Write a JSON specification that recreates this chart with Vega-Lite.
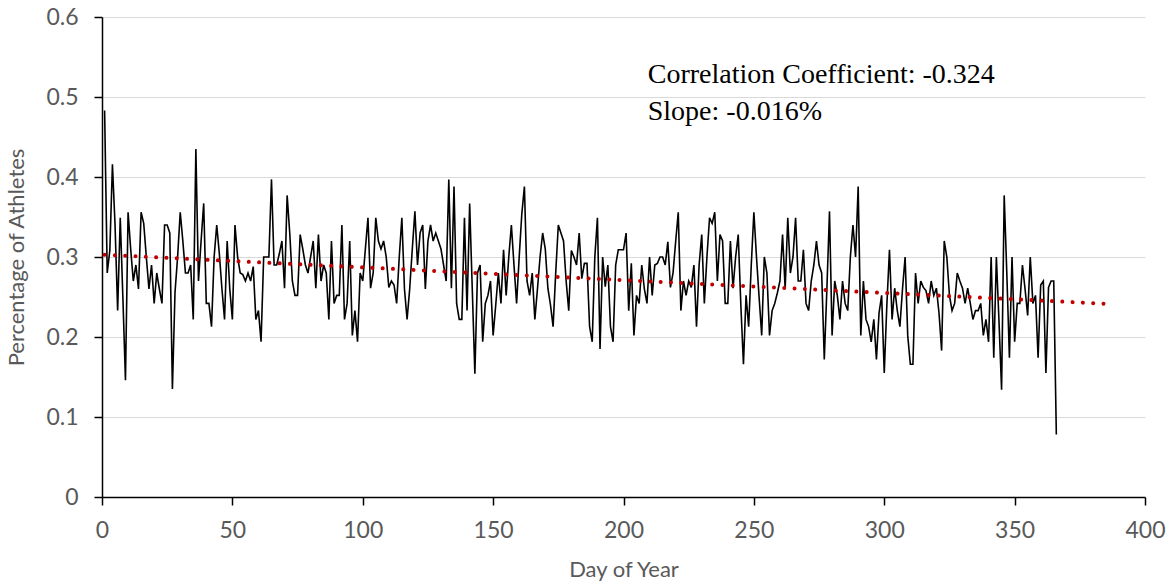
{
  "$schema": "https://vega.github.io/schema/vega-lite/v6.json",
  "width": 1043,
  "height": 480,
  "autosize": {"type": "none"},
  "padding": {"left": 102, "top": 17, "right": 27, "bottom": 89},
  "background": "white",
  "config": {
    "view": {"stroke": null},
    "axis": {
      "labelFont": "Lato",
      "labelFontSize": 23,
      "labelColor": "#595959",
      "labelFlush": false,
      "titleFont": "Lato",
      "titleFontSize": 22,
      "titleFontWeight": "normal",
      "titleColor": "#595959",
      "domainColor": "black",
      "domainWidth": 1.5,
      "tickColor": "black",
      "tickWidth": 1.5,
      "tickSize": 8
    }
  },
  "datasets": {
    "daily": [
      {"day":1,"pct":0.483},{"day":2,"pct":0.280},{"day":3,"pct":0.308},{"day":4,"pct":0.416},{"day":5,"pct":0.340},{"day":6,"pct":0.233},{"day":7,"pct":0.349},{"day":8,"pct":0.250},{"day":9,"pct":0.146},{"day":10,"pct":0.356},
      {"day":11,"pct":0.310},{"day":12,"pct":0.270},{"day":13,"pct":0.290},{"day":14,"pct":0.260},{"day":15,"pct":0.356},{"day":16,"pct":0.342},{"day":17,"pct":0.300},{"day":18,"pct":0.260},{"day":19,"pct":0.290},{"day":20,"pct":0.242},
      {"day":21,"pct":0.280},{"day":22,"pct":0.260},{"day":23,"pct":0.242},{"day":24,"pct":0.340},{"day":25,"pct":0.340},{"day":26,"pct":0.330},{"day":27,"pct":0.135},{"day":28,"pct":0.256},{"day":29,"pct":0.300},{"day":30,"pct":0.356},
      {"day":31,"pct":0.320},{"day":32,"pct":0.280},{"day":33,"pct":0.280},{"day":34,"pct":0.290},{"day":35,"pct":0.222},{"day":36,"pct":0.435},{"day":37,"pct":0.270},{"day":38,"pct":0.320},{"day":39,"pct":0.367},{"day":40,"pct":0.242},
      {"day":41,"pct":0.242},{"day":42,"pct":0.213},{"day":43,"pct":0.300},{"day":44,"pct":0.340},{"day":45,"pct":0.304},{"day":46,"pct":0.260},{"day":47,"pct":0.222},{"day":48,"pct":0.320},{"day":49,"pct":0.260},{"day":50,"pct":0.222},
      {"day":51,"pct":0.340},{"day":52,"pct":0.300},{"day":53,"pct":0.280},{"day":54,"pct":0.278},{"day":55,"pct":0.270},{"day":56,"pct":0.280},{"day":57,"pct":0.270},{"day":58,"pct":0.288},{"day":59,"pct":0.222},{"day":60,"pct":0.233},
      {"day":61,"pct":0.194},{"day":62,"pct":0.300},{"day":63,"pct":0.300},{"day":64,"pct":0.300},{"day":65,"pct":0.397},{"day":66,"pct":0.290},{"day":67,"pct":0.290},{"day":68,"pct":0.304},{"day":69,"pct":0.320},{"day":70,"pct":0.261},
      {"day":71,"pct":0.377},{"day":72,"pct":0.330},{"day":73,"pct":0.270},{"day":74,"pct":0.252},{"day":75,"pct":0.252},{"day":76,"pct":0.328},{"day":77,"pct":0.310},{"day":78,"pct":0.290},{"day":79,"pct":0.280},{"day":80,"pct":0.300},
      {"day":81,"pct":0.320},{"day":82,"pct":0.261},{"day":83,"pct":0.328},{"day":84,"pct":0.270},{"day":85,"pct":0.290},{"day":86,"pct":0.280},{"day":87,"pct":0.222},{"day":88,"pct":0.320},{"day":89,"pct":0.242},{"day":90,"pct":0.252},
      {"day":91,"pct":0.252},{"day":92,"pct":0.340},{"day":93,"pct":0.222},{"day":94,"pct":0.242},{"day":95,"pct":0.320},{"day":96,"pct":0.202},{"day":97,"pct":0.233},{"day":98,"pct":0.194},{"day":99,"pct":0.280},{"day":100,"pct":0.270},
      {"day":101,"pct":0.310},{"day":102,"pct":0.349},{"day":103,"pct":0.261},{"day":104,"pct":0.280},{"day":105,"pct":0.349},{"day":106,"pct":0.320},{"day":107,"pct":0.310},{"day":108,"pct":0.320},{"day":109,"pct":0.300},{"day":110,"pct":0.262},
      {"day":111,"pct":0.270},{"day":112,"pct":0.265},{"day":113,"pct":0.242},{"day":114,"pct":0.300},{"day":115,"pct":0.349},{"day":116,"pct":0.260},{"day":117,"pct":0.222},{"day":118,"pct":0.260},{"day":119,"pct":0.310},{"day":120,"pct":0.357},
      {"day":121,"pct":0.290},{"day":122,"pct":0.330},{"day":123,"pct":0.340},{"day":124,"pct":0.260},{"day":125,"pct":0.320},{"day":126,"pct":0.340},{"day":127,"pct":0.320},{"day":128,"pct":0.330},{"day":129,"pct":0.320},{"day":130,"pct":0.310},
      {"day":131,"pct":0.290},{"day":132,"pct":0.270},{"day":133,"pct":0.397},{"day":134,"pct":0.261},{"day":135,"pct":0.388},{"day":136,"pct":0.242},{"day":137,"pct":0.222},{"day":138,"pct":0.222},{"day":139,"pct":0.349},{"day":140,"pct":0.233},
      {"day":141,"pct":0.367},{"day":142,"pct":0.260},{"day":143,"pct":0.154},{"day":144,"pct":0.280},{"day":145,"pct":0.290},{"day":146,"pct":0.194},{"day":147,"pct":0.242},{"day":148,"pct":0.252},{"day":149,"pct":0.270},{"day":150,"pct":0.202},
      {"day":151,"pct":0.240},{"day":152,"pct":0.280},{"day":153,"pct":0.242},{"day":154,"pct":0.309},{"day":155,"pct":0.252},{"day":156,"pct":0.300},{"day":157,"pct":0.340},{"day":158,"pct":0.290},{"day":159,"pct":0.242},{"day":160,"pct":0.300},
      {"day":161,"pct":0.354},{"day":162,"pct":0.388},{"day":163,"pct":0.270},{"day":164,"pct":0.252},{"day":165,"pct":0.280},{"day":166,"pct":0.222},{"day":167,"pct":0.260},{"day":168,"pct":0.300},{"day":169,"pct":0.330},{"day":170,"pct":0.310},
      {"day":171,"pct":0.261},{"day":172,"pct":0.240},{"day":173,"pct":0.213},{"day":174,"pct":0.280},{"day":175,"pct":0.340},{"day":176,"pct":0.330},{"day":177,"pct":0.320},{"day":178,"pct":0.270},{"day":179,"pct":0.233},{"day":180,"pct":0.308},
      {"day":181,"pct":0.300},{"day":182,"pct":0.290},{"day":183,"pct":0.330},{"day":184,"pct":0.273},{"day":185,"pct":0.292},{"day":186,"pct":0.292},{"day":187,"pct":0.213},{"day":188,"pct":0.194},{"day":189,"pct":0.300},{"day":190,"pct":0.349},
      {"day":191,"pct":0.185},{"day":192,"pct":0.300},{"day":193,"pct":0.263},{"day":194,"pct":0.290},{"day":195,"pct":0.213},{"day":196,"pct":0.194},{"day":197,"pct":0.290},{"day":198,"pct":0.309},{"day":199,"pct":0.309},{"day":200,"pct":0.309},
      {"day":201,"pct":0.330},{"day":202,"pct":0.233},{"day":203,"pct":0.292},{"day":204,"pct":0.202},{"day":205,"pct":0.252},{"day":206,"pct":0.242},{"day":207,"pct":0.290},{"day":208,"pct":0.260},{"day":209,"pct":0.242},{"day":210,"pct":0.300},
      {"day":211,"pct":0.252},{"day":212,"pct":0.290},{"day":213,"pct":0.292},{"day":214,"pct":0.300},{"day":215,"pct":0.300},{"day":216,"pct":0.290},{"day":217,"pct":0.319},{"day":218,"pct":0.262},{"day":219,"pct":0.280},{"day":220,"pct":0.319},
      {"day":221,"pct":0.356},{"day":222,"pct":0.233},{"day":223,"pct":0.270},{"day":224,"pct":0.252},{"day":225,"pct":0.270},{"day":226,"pct":0.262},{"day":227,"pct":0.290},{"day":228,"pct":0.213},{"day":229,"pct":0.290},{"day":230,"pct":0.328},
      {"day":231,"pct":0.242},{"day":232,"pct":0.300},{"day":233,"pct":0.349},{"day":234,"pct":0.342},{"day":235,"pct":0.356},{"day":236,"pct":0.270},{"day":237,"pct":0.328},{"day":238,"pct":0.320},{"day":239,"pct":0.242},{"day":240,"pct":0.242},
      {"day":241,"pct":0.320},{"day":242,"pct":0.261},{"day":243,"pct":0.300},{"day":244,"pct":0.328},{"day":245,"pct":0.240},{"day":246,"pct":0.166},{"day":247,"pct":0.252},{"day":248,"pct":0.213},{"day":249,"pct":0.290},{"day":250,"pct":0.356},
      {"day":251,"pct":0.300},{"day":252,"pct":0.250},{"day":253,"pct":0.202},{"day":254,"pct":0.300},{"day":255,"pct":0.280},{"day":256,"pct":0.202},{"day":257,"pct":0.233},{"day":258,"pct":0.242},{"day":259,"pct":0.255},{"day":260,"pct":0.270},
      {"day":261,"pct":0.328},{"day":262,"pct":0.260},{"day":263,"pct":0.349},{"day":264,"pct":0.280},{"day":265,"pct":0.300},{"day":266,"pct":0.349},{"day":267,"pct":0.270},{"day":268,"pct":0.270},{"day":269,"pct":0.309},{"day":270,"pct":0.242},
      {"day":271,"pct":0.233},{"day":272,"pct":0.270},{"day":273,"pct":0.290},{"day":274,"pct":0.320},{"day":275,"pct":0.290},{"day":276,"pct":0.280},{"day":277,"pct":0.172},{"day":278,"pct":0.260},{"day":279,"pct":0.357},{"day":280,"pct":0.202},
      {"day":281,"pct":0.270},{"day":282,"pct":0.252},{"day":283,"pct":0.222},{"day":284,"pct":0.270},{"day":285,"pct":0.242},{"day":286,"pct":0.233},{"day":287,"pct":0.300},{"day":288,"pct":0.340},{"day":289,"pct":0.300},{"day":290,"pct":0.388},
      {"day":291,"pct":0.202},{"day":292,"pct":0.270},{"day":293,"pct":0.222},{"day":294,"pct":0.213},{"day":295,"pct":0.194},{"day":296,"pct":0.222},{"day":297,"pct":0.172},{"day":298,"pct":0.230},{"day":299,"pct":0.252},{"day":300,"pct":0.155},
      {"day":301,"pct":0.240},{"day":302,"pct":0.309},{"day":303,"pct":0.222},{"day":304,"pct":0.261},{"day":305,"pct":0.233},{"day":306,"pct":0.213},{"day":307,"pct":0.260},{"day":308,"pct":0.300},{"day":309,"pct":0.202},{"day":310,"pct":0.166},
      {"day":311,"pct":0.166},{"day":312,"pct":0.280},{"day":313,"pct":0.242},{"day":314,"pct":0.270},{"day":315,"pct":0.262},{"day":316,"pct":0.258},{"day":317,"pct":0.242},{"day":318,"pct":0.270},{"day":319,"pct":0.252},{"day":320,"pct":0.261},
      {"day":321,"pct":0.230},{"day":322,"pct":0.183},{"day":323,"pct":0.320},{"day":324,"pct":0.300},{"day":325,"pct":0.252},{"day":326,"pct":0.233},{"day":327,"pct":0.242},{"day":328,"pct":0.280},{"day":329,"pct":0.270},{"day":330,"pct":0.261},
      {"day":331,"pct":0.242},{"day":332,"pct":0.261},{"day":333,"pct":0.242},{"day":334,"pct":0.222},{"day":335,"pct":0.233},{"day":336,"pct":0.233},{"day":337,"pct":0.242},{"day":338,"pct":0.202},{"day":339,"pct":0.222},{"day":340,"pct":0.194},
      {"day":341,"pct":0.300},{"day":342,"pct":0.174},{"day":343,"pct":0.300},{"day":344,"pct":0.220},{"day":345,"pct":0.134},{"day":346,"pct":0.377},{"day":347,"pct":0.280},{"day":348,"pct":0.174},{"day":349,"pct":0.300},{"day":350,"pct":0.194},
      {"day":351,"pct":0.242},{"day":352,"pct":0.242},{"day":353,"pct":0.290},{"day":354,"pct":0.260},{"day":355,"pct":0.227},{"day":356,"pct":0.300},{"day":357,"pct":0.242},{"day":358,"pct":0.252},{"day":359,"pct":0.174},{"day":360,"pct":0.265},
      {"day":361,"pct":0.270},{"day":362,"pct":0.155},{"day":363,"pct":0.262},{"day":364,"pct":0.270},{"day":365,"pct":0.270},{"day":366,"pct":0.078}
    ],
    "trend": [
      {"day": 1, "pct": 0.3028},
      {"day": 386, "pct": 0.2414}
    ],
    "notes": [
      {"day": 209.3, "pct": 0.517, "label": "Correlation Coefficient: -0.324"},
      {"day": 209.3, "pct": 0.471, "label": "Slope: -0.016%"}
    ]
  },
  "layer": [
    {
      "data": {"name": "daily"},
      "mark": {"type": "line", "color": "black", "strokeWidth": 1.6},
      "encoding": {
        "x": {
          "field": "day", "type": "quantitative",
          "scale": {"domain": [0, 400], "nice": false, "zero": true},
          "axis": {
            "title": "Day of Year",
            "values": [0, 50, 100, 150, 200, 250, 300, 350, 400],
            "grid": false,
            "labelPadding": 14,
            "titlePadding": 17
          }
        },
        "y": {
          "field": "pct", "type": "quantitative",
          "scale": {"domain": [0, 0.6], "nice": false},
          "axis": {
            "title": "Percentage of Athletes",
            "values": [0, 0.1, 0.2, 0.3, 0.4, 0.5, 0.6],
            "format": ".1~f",
            "grid": true,
            "gridColor": "#d9d9d9",
            "gridWidth": 1.2,
            "labelPadding": 16,
            "titlePadding": 17
          }
        }
      }
    },
    {
      "data": {"name": "trend"},
      "mark": {"type": "line", "color": "#C00000", "strokeWidth": 4, "strokeDash": [0.01, 10.3], "strokeCap": "round"},
      "encoding": {
        "x": {"field": "day", "type": "quantitative"},
        "y": {"field": "pct", "type": "quantitative"}
      }
    },
    {
      "data": {"name": "notes"},
      "mark": {"type": "text", "align": "left", "baseline": "alphabetic", "font": "Liberation Serif", "fontSize": 28, "color": "black"},
      "encoding": {
        "x": {"field": "day", "type": "quantitative"},
        "y": {"field": "pct", "type": "quantitative"},
        "text": {"field": "label"}
      }
    }
  ]
}
